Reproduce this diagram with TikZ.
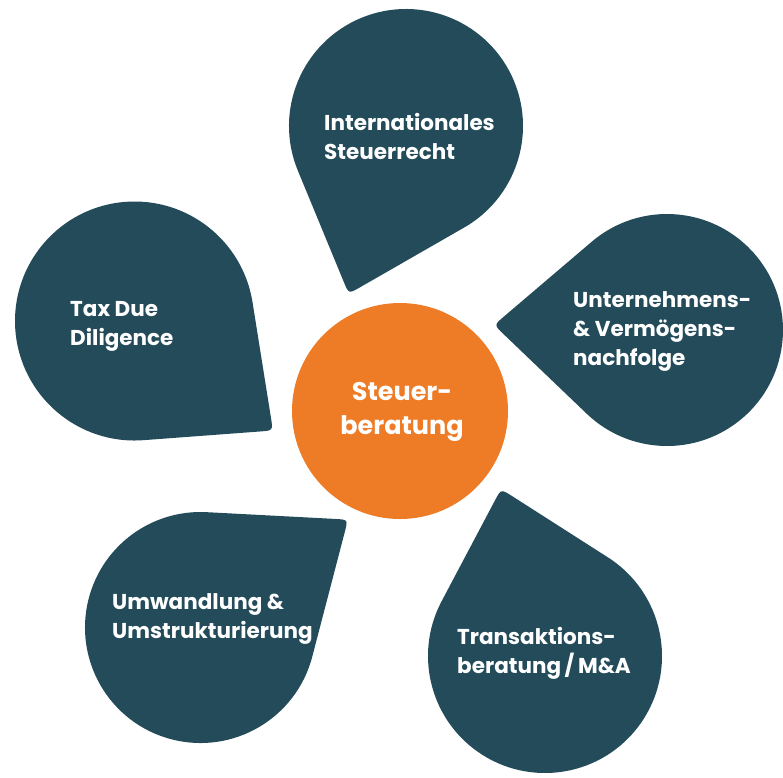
\documentclass[tikz,border=0pt]{standalone}
\usepackage{fontspec}
\setmainfont{Poppins}
\usetikzlibrary{calc}
\definecolor{teal}{RGB}{35,75,90}
\definecolor{orng}{RGB}{238,123,37}
\tikzset{
  petalfill/.style={fill=teal},
  petaltext/.style={text=white, font=\fontsize{21.5}{29}\selectfont\bfseries, align=left, anchor=base west, inner sep=0pt},
  hubtext/.style={text=white, font=\fontsize{25.5}{34}\selectfont\bfseries, align=center, anchor=base, inner sep=0pt}
}
\newcommand\petal[5]{%
  \pgfmathsetmacro\pdx{#4-#1}%
  \pgfmathsetmacro\pdy{#5-#2}%
  \pgfmathsetmacro\pd{veclen(\pdx,\pdy)}%
  \pgfmathsetmacro\pb{atan2(\pdy,\pdx)}%
  \pgfmathsetmacro\pa{acos(#3/\pd)}%
  \coordinate (T) at (#4,#5);
  \path (#1,#2) ++(\pb-\pa:#3) coordinate (P1);
  \path (#1,#2) ++(\pb+\pa:#3) coordinate (P2);
  \fill[petalfill] (P2) arc[start angle=\pb+\pa, end angle=\pb+360-\pa, radius=#3]
    -- ($(T)!13pt!(P1)$) .. controls (T) .. ($(T)!13pt!(P2)$) -- cycle;
}
\begin{document}
\begin{tikzpicture}[x=1pt,y=-1pt]
\useasboundingbox (0,0) rectangle (783,777);
\petal{406}{126}{117}{348.7}{293.8}
\petal{667}{330}{116}{494}{325}
\petal{545}{656}{117}{501}{489}
\petal{200.5}{627.5}{115.5}{348}{519.6}
\petal{134.5}{321}{119.5}{273}{430.5}
\node[circle, fill=orng, minimum size=216pt, inner sep=0pt] (hub) at (400,411) {};
\node[hubtext] (hubt) at (402,434) {Steuer-\\beratung};
\node[petaltext] (p1) at (324,159) {Internationales\\Steuerrecht};
\node[petaltext] (p2) at (573,365) {Unternehmens-\\\& Vermögens-\\nachfolge};
\node[petaltext] (p3) at (457,673) {Transaktions-\\beratung\,/\,M\&A};
\node[petaltext] (p4) at (112,638) {Umwandlung \&\\Umstrukturierung};
\node[petaltext] (p5) at (70,345) {Tax Due\\Diligence};
\end{tikzpicture}
\end{document}
